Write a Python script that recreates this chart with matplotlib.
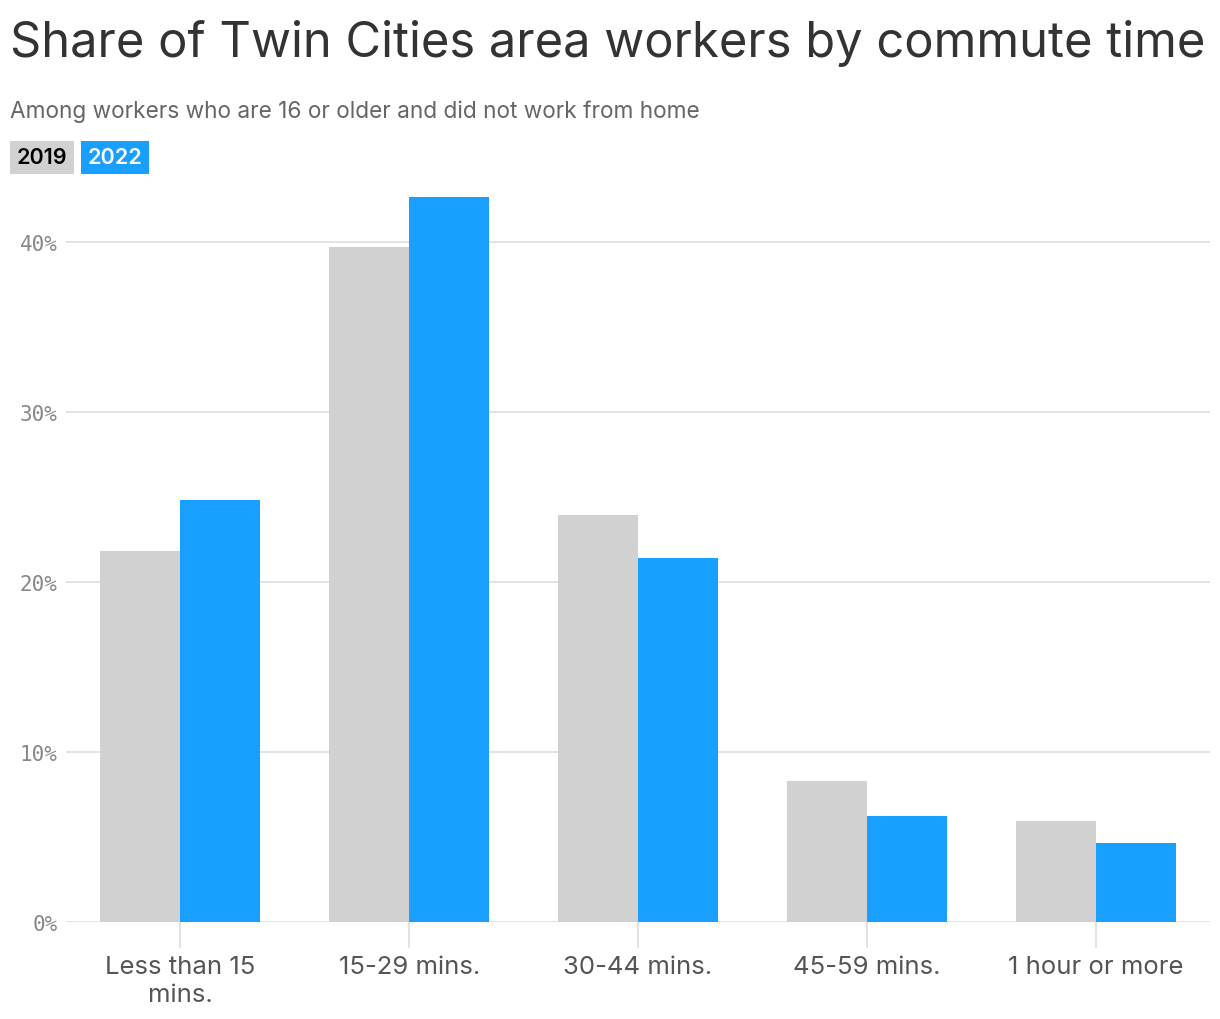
import numpy as np
import matplotlib.pyplot as plt

categories = ["Less than 15\nmins.", "15-29 mins.", "30-44 mins.", "45-59 mins.", "1 hour or more"]
share_2019 = [21.8, 39.7, 23.9, 8.3, 5.9]
share_2022 = [24.8, 42.6, 21.4, 6.2, 4.6]
y_ticks = [0, 10, 20, 30, 40]

gray = "#d0d1d0"
blue = "#189fff"

fig = plt.figure(figsize=(12.2, 10.2), dpi=100)
ax = fig.add_axes([0.0541, 0.0955, 0.9377, 0.7266])

x = np.arange(len(categories))
w = 0.35
ax.bar(x - w / 2, share_2019, width=w, color=gray, zorder=2)
ax.bar(x + w / 2, share_2022, width=w, color=blue, zorder=2)

ax.set_xlim(-0.5, len(categories) - 0.5)
ax.set_ylim(0, 43.6)
ax.set_yticks(y_ticks)
ax.set_yticklabels([f"{v}%" for v in y_ticks], family="DejaVu Sans Mono",
                   fontsize=15, color="#888888")
ax.tick_params(axis="y", length=0, pad=6)
ax.yaxis.grid(True, color="#e0e0e0", lw=1.3, zorder=0)

ax.set_xticks(x)
ax.set_xticklabels(categories, family="Inter", fontsize=18.5, color="#555555",
                   linespacing=1.3)
ax.tick_params(axis="x", length=19, width=1.2, color="#dddddd", pad=5)

for s in ax.spines.values():
    s.set_visible(False)

fig.text(0.008, 0.957, "Share of Twin Cities area workers by commute time",
         family="Inter", fontsize=35.2, color="#333333", va="center")
fig.text(0.008, 0.890, "Among workers who are 16 or older and did not work from home",
         family="Inter", fontsize=16.3, color="#666666", va="center")

# legend boxes
fig.text(0.0139, 0.845, "2019", family="Inter", fontsize=15.5, fontweight="semibold",
         color="#000000", va="center",
         bbox=dict(boxstyle="square,pad=0.3", fc=gray, ec="none"))
fig.text(0.0717, 0.845, "2022", family="Inter", fontsize=15.5, fontweight="semibold",
         color="#ffffff", va="center",
         bbox=dict(boxstyle="square,pad=0.3", fc=blue, ec="none"))

fig.savefig("out.png", dpi=100)
